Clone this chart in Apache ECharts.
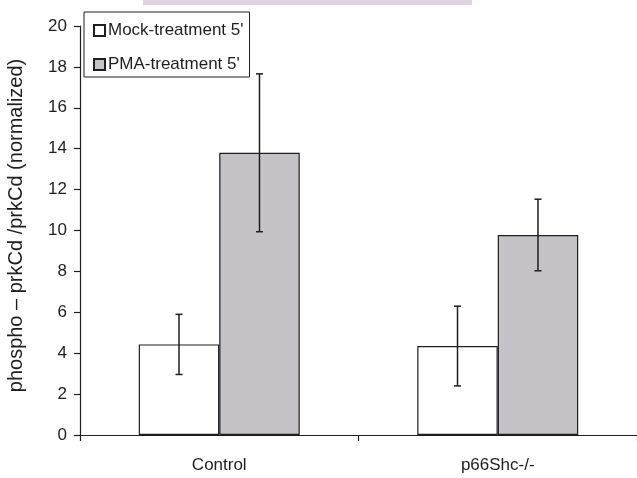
<!DOCTYPE html>
<html>
<head>
<meta charset="utf-8">
<script src="https://cdn.jsdelivr.net/npm/echarts@6/dist/echarts.min.js"></script>
<style>
html,body{margin:0;padding:0;background:#fff;}
#c{width:637px;height:478px;}
</style>
</head>
<body>
<div id="c"></div>
<script>
var categories = ['Control', 'p66Shc-/-'];
var seriesNames = ["Mock-treatment 5'", "PMA-treatment 5'"];
var mockValues = [4.43, 4.35];
var pmaValues = [13.8, 9.78];
var mockErrors = [1.47, 1.95];
var pmaErrors = [3.86, 1.75];
var yTicks = [0, 2, 4, 6, 8, 10, 12, 14, 16, 18, 20];

var FONT = "'Liberation Sans', Arial, sans-serif";
var INK = '#1e1e1e';
var BAR_FRAC = 0.289;

function errData(vals, errs) {
  return vals.map(function (v, i) { return [i, v - errs[i], v + errs[i]]; });
}

function errRender(side) {
  return function (params, api) {
    var ci = api.value(0);
    var lo = api.coord([ci, api.value(1)]);
    var hi = api.coord([ci, api.value(2)]);
    var bw = api.size([1, 0])[0] * BAR_FRAC;
    var x = lo[0] + side * bw / 2;
    var cap = 3.5;
    var st = { stroke: INK, lineWidth: 1.5 };
    return {
      type: 'group',
      children: [
        { type: 'line', shape: { x1: x, y1: hi[1], x2: x, y2: lo[1] }, style: st },
        { type: 'line', shape: { x1: x - cap, y1: hi[1], x2: x + cap, y2: hi[1] }, style: st },
        { type: 'line', shape: { x1: x - cap, y1: lo[1], x2: x + cap, y2: lo[1] }, style: st }
      ]
    };
  };
}

var chart = echarts.init(document.getElementById('c'), null, { renderer: 'canvas' });
chart.setOption({
  animation: false,
  backgroundColor: '#ffffff',
  textStyle: { fontFamily: FONT },
  graphic: [{
    type: 'rect', left: 143, top: 0, shape: { width: 329, height: 5 },
    style: { fill: '#dcd3de' }, silent: true
  }],
  grid: { left: 80, right: 0, top: 26, bottom: 43, containLabel: false, outerBoundsMode: 'none' },
  legend: {
    orient: 'vertical',
    left: 84, top: 12,
    padding: [10, 6, 4, 9],
    itemGap: 17,
    itemWidth: 11, itemHeight: 11,
    icon: 'rect',
    borderColor: INK, borderWidth: 1,
    backgroundColor: '#fff',
    textStyle: { fontSize: 17, color: INK, fontFamily: FONT, padding: [0, 0, 0, -2] },
    data: seriesNames
  },
  xAxis: {
    type: 'category',
    data: categories,
    boundaryGap: true,
    axisLine: { show: true, lineStyle: { color: INK, width: 1.2 } },
    axisTick: { show: true, length: 6, alignWithLabel: false, interval: 0, lineStyle: { color: INK, width: 1.2 } },
    axisLabel: { fontSize: 17, color: INK, margin: 22, fontFamily: FONT },
    splitLine: { show: false }
  },
  yAxis: {
    type: 'value',
    min: 0, max: 20, interval: 2,
    name: 'phospho – prkCd /prkCd (normalized)',
    nameLocation: 'middle',
    nameGap: 54,
    nameTextStyle: { fontSize: 20, color: INK, fontFamily: FONT, padding: [0, 0, 0, 10] },
    axisLine: { show: true, lineStyle: { color: INK, width: 1.2 } },
    axisTick: { show: true, length: 6, inside: false, lineStyle: { color: INK, width: 1.2 } },
    axisLabel: {
      fontSize: 17, color: INK, margin: 13, fontFamily: FONT,
      formatter: function (v) { return yTicks.indexOf(v) >= 0 ? String(v) : ''; }
    },
    splitLine: { show: false }
  },
  series: [
    {
      name: seriesNames[0], type: 'bar', data: mockValues,
      barWidth: (BAR_FRAC * 100) + '%', barGap: '0%',
      itemStyle: { color: '#ffffff', borderColor: INK, borderWidth: 1.2 },
      z: 2
    },
    {
      name: seriesNames[1], type: 'bar', data: pmaValues,
      barWidth: (BAR_FRAC * 100) + '%', barGap: '0%',
      itemStyle: { color: '#c5c3c7', borderColor: INK, borderWidth: 1.2 },
      z: 2
    },
    {
      name: 'mockErr', type: 'custom', data: errData(mockValues, mockErrors),
      encode: { x: 0, y: [1, 2] }, renderItem: errRender(-1), z: 5
    },
    {
      name: 'pmaErr', type: 'custom', data: errData(pmaValues, pmaErrors),
      encode: { x: 0, y: [1, 2] }, renderItem: errRender(1), z: 5
    }
  ]
});
</script>
</body>
</html>
